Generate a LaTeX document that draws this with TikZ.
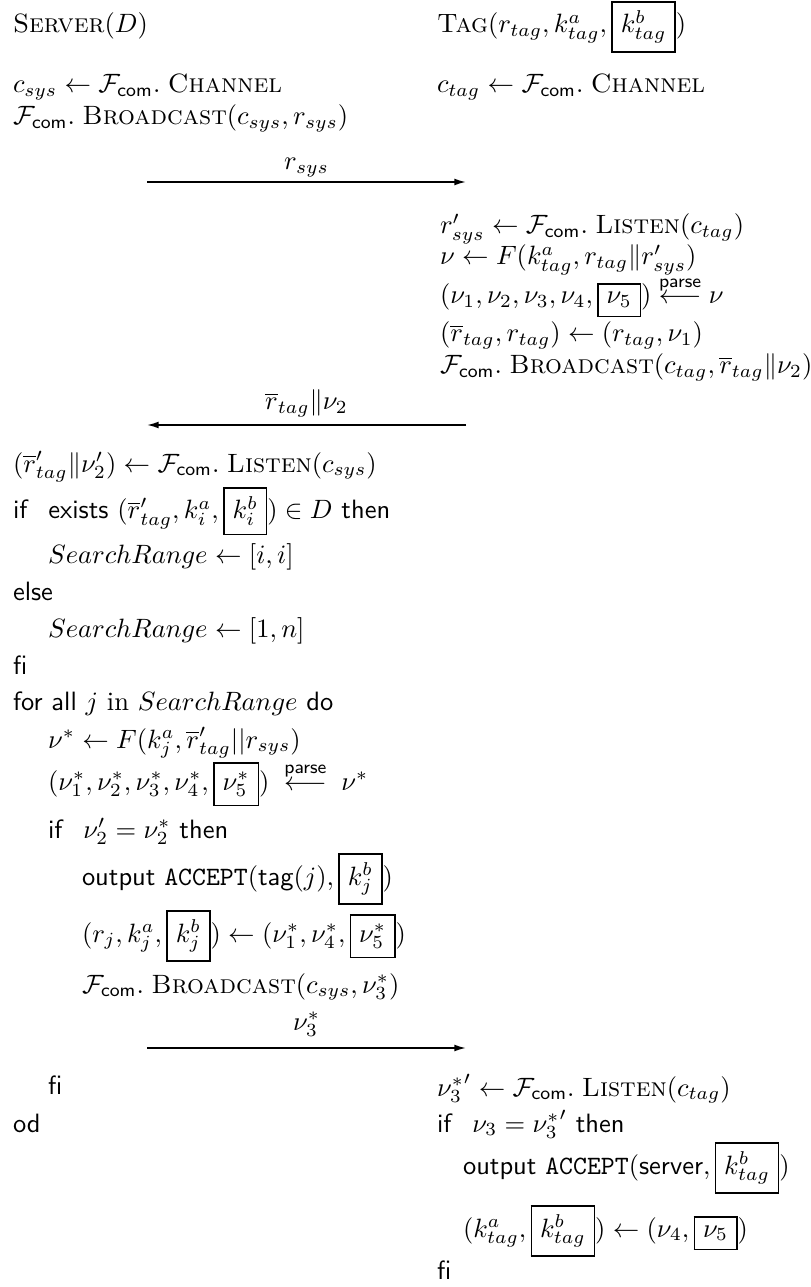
\documentclass[tikz,border=0pt]{standalone}
\usepackage{amsmath}
\usetikzlibrary{arrows.meta,calc}
\newcommand{\Fc}{\mathcal{F}_{\textsf{com}}}
\newcommand{\kw}[1]{\textsf{#1}}
\newcommand{\bxd}[1]{\fbox{$#1$}}
\setlength{\fboxrule}{0.55pt}
\begin{document}
\begin{tikzpicture}[x=0.3774pt,y=-0.3774pt,
  txt/.style={anchor=base west,inner sep=0pt,outer sep=0pt},
  msg/.style={anchor=base,inner sep=0pt,outer sep=0pt},
  arr/.style={-{Latex[length=4.4pt,width=2.6pt]},line width=0.6pt}]
\useasboundingbox (0,0) rectangle (810,1287);
% headers
\node[txt] (srv) at (13,33) {\textsc{Server}$(D)$};
\node[txt] (tag) at (437,33) {\textsc{Tag}$(r_{tag}, k^a_{tag}, \bxd{k^b_{tag}})$};
\node[txt] (l1) at (13,93) {$c_{sys} \leftarrow \Fc.\;\textsc{Channel}$};
\node[txt] (r1) at (437,93) {$c_{tag} \leftarrow \Fc.\;\textsc{Channel}$};
\node[txt] (l2) at (13,125) {$\Fc.\;\textsc{Broadcast}(c_{sys}, r_{sys})$};
% message 1
\coordinate (m1s) at (147,182);
\coordinate (m1e) at (466,182);
\draw[arr] (m1s) -- (m1e);
\node[msg] (m1l) at ($(m1s)!0.5!(m1e)+(0,-12)$) {$r_{sys}$};
% tag side
\node[txt] (r2) at (440,234) {$r'_{sys} \leftarrow \Fc.\;\textsc{Listen}(c_{tag})$};
\node[txt] (r3) at (440,265) {$\nu \leftarrow F(k^a_{tag}, r_{tag}\|r'_{sys})$};
\node[txt] (r4) at (440,304) {$(\nu_1,\nu_2,\nu_3,\nu_4,\bxd{\nu_5})\overset{\textsf{parse}}{\longleftarrow}\nu$};
\node[txt] (r5) at (440,342) {$(\overline{r}_{tag}, r_{tag}) \leftarrow (r_{tag},\nu_1)$};
\node[txt] (r6) at (440,374) {$\Fc.\;\textsc{Broadcast}(c_{tag},\overline{r}_{tag}\|\nu_2)$};
% message 2
\coordinate (m2s) at (147,425);
\coordinate (m2e) at (466,425);
\draw[arr] (m2e) -- (m2s);
\node[msg] (m2l) at ($(m2s)!0.5!(m2e)+(0,-15)$) {$\overline{r}_{tag}\|\nu_2$};
% server side
\node[txt] (l3) at (13,472) {$(\overline{r}'_{tag}\|\nu'_2) \leftarrow \Fc.\;\textsc{Listen}(c_{sys})$};
\node[txt] (l4) at (13,519) {\kw{if}\hspace{0.75em}\kw{exists} $(\overline{r}'_{tag}, k^a_i, \bxd{k^b_i}) \in D$ \kw{then}};
\node[txt] (l5) at (48,563) {$SearchRange \leftarrow [i,i]$};
\node[txt] (l6) at (13,600) {\kw{else}};
\node[txt] (l7) at (48,637) {$SearchRange \leftarrow [1,n]$};
\node[txt] (l8) at (13,674) {\kw{fi}};
\node[txt] (l9) at (13,710) {\kw{for all} $j$ in $SearchRange$ \kw{do}};
\node[txt] (l10) at (48,748) {$\nu^* \leftarrow F(k^a_j, \overline{r}'_{tag}||r_{sys})$};
\node[txt] (l11) at (48,790) {$(\nu^*_1,\nu^*_2,\nu^*_3,\nu^*_4,\bxd{\nu^*_5})\;\overset{\textsf{parse}}{\longleftarrow}\;\nu^*$};
\node[txt] (l12) at (48,838) {\kw{if}\hspace{0.75em}$\nu'_2=\nu^*_2$ \kw{then}};
\node[txt] (l13) at (82,885) {\kw{output} \texttt{ACCEPT}$($\kw{tag}$(j), \bxd{k^b_j})$};
\node[txt] (l14) at (82,942) {$(r_j, k^a_j, \bxd{k^b_j}) \leftarrow (\nu^*_1,\nu^*_4,\bxd{\nu^*_5})$};
\node[txt] (l15) at (82,993) {$\Fc.\;\textsc{Broadcast}(c_{sys},\nu^*_3)$};
% message 3
\coordinate (m3s) at (147,1048);
\coordinate (m3e) at (466,1048);
\draw[arr] (m3s) -- (m3e);
\node[msg] (m3l) at ($(m3s)!0.5!(m3e)+(0,-18)$) {$\nu^*_3$};
\node[txt] (l16) at (48,1094) {\kw{fi}};
\node[txt] (l17) at (13,1132) {\kw{od}};
% tag side final
\node[txt] (r7) at (437,1096) {${\nu^*_3}' \leftarrow \Fc.\;\textsc{Listen}(c_{tag})$};
\node[txt] (r8) at (437,1132) {\kw{if}\hspace{0.75em}$\nu_3 = {\nu^*_3}'$ \kw{then}};
\node[txt] (r9) at (463,1174) {\kw{output} \texttt{ACCEPT}$($\kw{server}$, \bxd{k^b_{tag}})$};
\node[txt] (r10) at (463,1237) {$(k^a_{tag},\bxd{k^b_{tag}}) \leftarrow (\nu_4,\bxd{\nu_5})$};
\node[txt] (r11) at (437,1279) {\kw{fi}};
\end{tikzpicture}
\end{document}
